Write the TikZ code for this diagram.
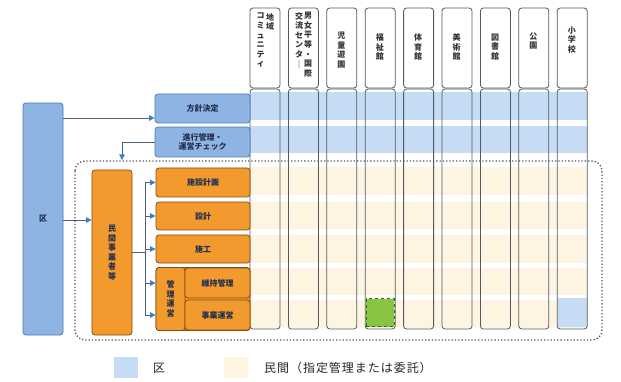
\documentclass[tikz,border=0pt]{standalone}
\usepackage{fontspec}
\setmainfont{Noto Sans CJK JP}
\usetikzlibrary{arrows.meta}
\definecolor{kublue}{HTML}{8DB4E2}
\definecolor{kubluedk}{HTML}{4F7DB8}
\definecolor{bandblue}{HTML}{C6DCF4}
\definecolor{orfill}{HTML}{F39A2E}
\definecolor{ordk}{HTML}{8A4A12}
\definecolor{cream}{HTML}{FEF4E2}
\definecolor{navy}{HTML}{22304F}
\definecolor{linec}{HTML}{4A5F78}
\definecolor{arrowblue}{HTML}{3D80C4}
\definecolor{grfill}{HTML}{86C441}
\definecolor{grdk}{HTML}{2F6B1A}
\definecolor{colline}{HTML}{555A60}
\begin{document}
\begin{tikzpicture}[x=1pt,y=-1pt,
  bluebox/.style={draw=kubluedk, fill=kublue, rounded corners=3pt, line width=0.8pt, inner sep=0pt, align=center, font=\fontsize{8}{9.5}\selectfont\bfseries, text=navy},
  orbox/.style={draw=ordk, fill=orfill, rounded corners=3pt, line width=0.8pt, inner sep=0pt, align=center, font=\fontsize{8}{9.5}\selectfont\bfseries, text=navy},
  colbox/.style={draw=colline, rounded corners=3pt, line width=0.8pt, minimum width=30pt, inner sep=0pt},
  vt/.style={align=center, inner sep=0pt, font=\fontsize{8}{9.6}\selectfont\bfseries, text=black!80},
  arr/.style={draw=linec, line width=0.8pt, -{Triangle[width=5.5pt,length=5.5pt,color=arrowblue]}},
  conn/.style={draw=linec, line width=0.8pt},
  legtext/.style={font=\fontsize{12}{14}\selectfont\addfontfeatures{LetterSpace=8}, text=black!85, anchor=west, inner sep=0pt}
]
\useasboundingbox (0,0) rectangle (621,382);
\fill[white] (0,0) rectangle (621,382);

% bands
\fill[bandblue] (250,92) rectangle (587,120);
\fill[bandblue] (250,126) rectangle (587,153);
\fill[cream] (250,167) rectangle (587,195);
\fill[cream] (250,202) rectangle (587,229);
\fill[cream] (250,235) rectangle (587,263);
\fill[cream] (250,268) rectangle (587,295);
\fill[cream] (250,300) rectangle (587,328);

% special cells
\node[draw=grdk, fill=grfill, dashed, line width=1pt, minimum width=28pt, minimum height=28pt, inner sep=0pt] (green) at (380,312.5) {};
\node[fill=bandblue, minimum width=29pt, minimum height=29pt, inner sep=0pt] (bluecell) at (572,312) {};

% columns
\foreach \i in {0,...,8} {
  \node[colbox, minimum height=80pt] (h\i) at (265+38.4*\i,48) {};
  \node[colbox, minimum height=240pt] (c\i) at (265+38.4*\i,209) {};
}

% header texts
\node[vt, anchor=north] (t0a) at (270,13) {地\\域};
\node[vt, anchor=north] (t0b) at (260.5,13) {コ\\ミ\\ュ\\ニ\\テ\\ィ};
\node[vt, anchor=north] (t1a) at (308,12) {男\\女\\平\\等\\・\\国\\際};
\node[vt, anchor=north] (t1b) at (299,12) {交\\流\\セ\\ン\\タ\\｜};
\node[vt] (t2) at (341.4,50) {児\\童\\遊\\園};
\node[vt] (t3) at (379.8,47) {福\\祉\\館};
\node[vt] (t4) at (418.2,47) {体\\育\\館};
\node[vt] (t5) at (456.6,47) {美\\術\\館};
\node[vt] (t6) at (495,47) {図\\書\\館};
\node[vt] (t7) at (533.4,41) {公\\園};
\node[vt] (t8) at (571.8,40) {小\\学\\校};

% dotted frame
\draw[colline, dotted, line width=1.3pt, rounded corners=10pt] (75,161) rectangle (602,340);

% left boxes
\node[bluebox, minimum width=40pt, minimum height=232pt] (ku) at (43,219) {区};
\node[bluebox, minimum width=95pt, minimum height=29pt] (hoshin) at (202.5,108.5) {方針決定};
\node[bluebox, minimum width=95pt, minimum height=30pt] (shinko) at (202.5,142) {進行管理・\\運営チェック};

\node[orbox, minimum width=40pt, minimum height=165pt] (jigyo) at (112,252.5) {民\\間\\事\\業\\者\\等};
\node[orbox, minimum width=94pt, minimum height=29pt] (s1) at (203,182.5) {施設計画};
\node[orbox, minimum width=94pt, minimum height=28pt] (s2) at (203,216) {設計};
\node[orbox, minimum width=94pt, minimum height=28pt] (s3) at (203,249) {施工};
\node[orbox, minimum width=94pt, minimum height=63pt] (grp) at (203,299) {};
\node[orbox, minimum width=29pt, minimum height=63pt] (kanri) at (170.5,299) {管\\理\\運\\営};
\node[orbox, minimum width=65pt, minimum height=30pt] (iji) at (217.5,283) {維持管理};
\node[orbox, minimum width=65pt, minimum height=30pt] (unei) at (217.5,315) {事業運営};

% connectors
\coordinate (h1p) at ([yshift=-9.5pt]hoshin.west);
\draw[arr] (h1p -| ku.east) -- (h1p);
\coordinate (d1) at (122,160);
\draw[arr] (shinko.west) -| (d1);
\coordinate (k2) at ([yshift=32.5pt]jigyo.west);
\draw[arr] (k2 -| ku.east) -- (k2);
\coordinate (bx) at (145,252.5);
\draw[conn] (jigyo.east) -- (bx);
\draw[conn] (bx |- s1.west) -- (bx |- unei.west);
\draw[arr] (bx |- s1.west) -- (s1.west);
\draw[arr] (bx |- s2.west) -- (s2.west);
\draw[arr] (bx |- s3.west) -- (s3.west);
\draw[arr] (bx |- iji.west) -- (iji.west -| grp.west);
\draw[arr] (bx |- unei.west) -- (unei.west -| grp.west);

% legend
\node[fill=bandblue, minimum width=24pt, minimum height=21pt, inner sep=0pt] (lg1) at (126,367.5) {};
\node[legtext] (lt1) at (153,368) {区};
\node[fill=cream, minimum width=24pt, minimum height=21pt, inner sep=0pt] (lg2) at (236,367.5) {};
\node[legtext] (lt2) at (264,368) {民間（指定管理または委託）};
\end{tikzpicture}
\end{document}
